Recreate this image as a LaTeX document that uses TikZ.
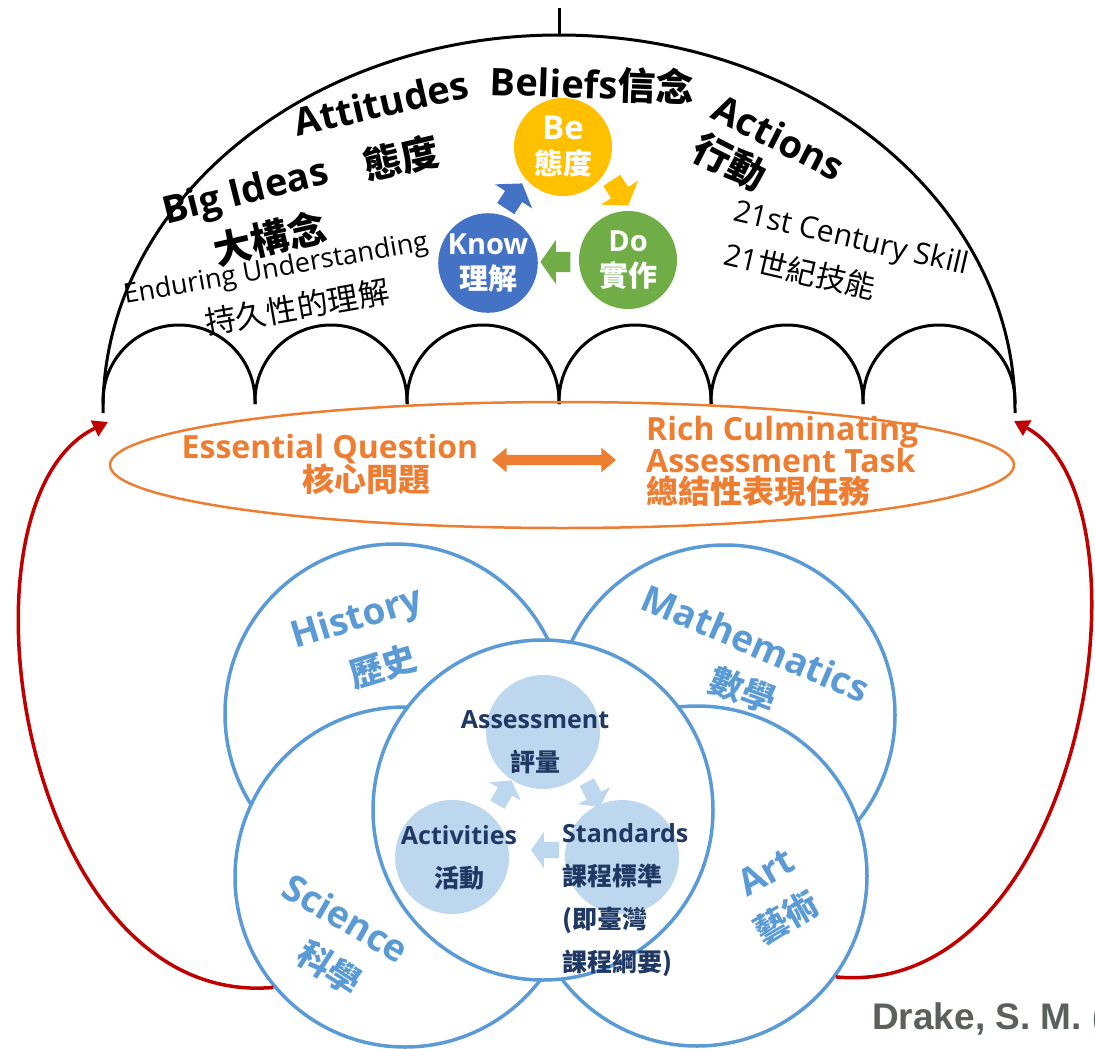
\documentclass[tikz,border=0pt]{standalone}
\usepackage{fontspec}
\setmainfont{Open Sans}
\newfontfamily\zhfont{Noto Sans CJK TC}
\newfontfamily\citefont{Liberation Sans}
\usetikzlibrary{shapes.arrows, arrows.meta}
\definecolor{beyellow}{RGB}{255,192,0}
\definecolor{knowblue}{RGB}{68,114,196}
\definecolor{dogreen}{RGB}{112,173,71}
\definecolor{eqorange}{RGB}{237,125,49}
\definecolor{loopred}{RGB}{192,0,0}
\definecolor{subjblue}{RGB}{91,155,213}
\definecolor{stagefill}{RGB}{189,215,238}
\definecolor{stagenavy}{RGB}{31,56,100}
\definecolor{citegray}{RGB}{89,97,90}
\newcommand{\zh}[1]{{\zhfont #1}}
\tikzstyle{dome} = [line width=3pt, draw=black]
\tikzstyle{domelabel} = [inner sep=0pt, font=\fontsize{38}{42}\selectfont\bfseries]
\tikzstyle{domenote} = [inner sep=0pt, font=\fontsize{27}{30}\selectfont]
\tikzstyle{kbd} = [circle, minimum size=98pt, inner sep=0pt, text=white, align=center, font=\fontsize{29}{35}\selectfont\bfseries]
\tikzstyle{cyclearrow} = [single arrow, minimum height=30pt, inner xsep=0pt, inner ysep=10pt, single arrow head extend=12pt, single arrow tip angle=110]
\tikzstyle{stagearrow} = [single arrow, fill=stagefill, minimum height=28pt, inner xsep=0pt, inner ysep=8pt, single arrow head extend=10pt, single arrow tip angle=110]
\tikzstyle{eqlabel} = [inner sep=0pt, text=eqorange, font=\fontsize{32}{34}\selectfont\bfseries]
\tikzstyle{linkarrow} = [double arrow, fill=eqorange, minimum height=124pt, inner xsep=0pt, inner ysep=5pt, double arrow head extend=7pt, double arrow tip angle=80]
\tikzstyle{feedback} = [draw=loopred, line width=3.5pt, -{Triangle[width=17pt,length=15pt]}]
\tikzstyle{subject} = [circle, draw=subjblue, line width=3.5pt, fill=white, minimum size=340pt, inner sep=0pt]
\tikzstyle{subjlabel} = [inner sep=0pt, text=subjblue, font=\fontsize{37}{40}\selectfont\bfseries]
\tikzstyle{stage} = [circle, fill=stagefill, minimum size=114pt, inner sep=0pt]
\tikzstyle{stagelabel} = [inner sep=0pt, text=stagenavy, font=\fontsize{25}{43}\selectfont\bfseries]

\begin{document}
\begin{tikzpicture}[x=1pt, y=-1pt]
\useasboundingbox (0,0) rectangle (1095,1049);

\draw[dome] (559,8) -- (559,35);
\draw[dome] (103,413) -- (103,410) arc[start angle=180, end angle=360, x radius=456, y radius=375] -- (1015,413);
\foreach \i in {0,...,5}
  \draw[dome] (103+152*\i,404) -- ++(0,-3) arc[start angle=180, end angle=360, radius=76] -- ++(0,3);

\node[domelabel, rotate=13] (attitudes) at (381,103) {Attitudes};
\node[domelabel, rotate=-2] (beliefs) at (592,84) {Beliefs\zh{信念}};
\node[domelabel, rotate=-27] (actions) at (779,137) {Actions};
\node[domelabel, rotate=-27] (actionszh) at (730,162) {\zh{行動}};
\node[domelabel, rotate=14] (bigideas) at (246,194) {Big Ideas};
\node[domelabel, rotate=13] (attitudeszh) at (401,158) {\zh{態度}};
\node[domelabel, rotate=13] (bigideaszh) at (270,238) {\zh{大構念}};
\node[domenote, rotate=10] (enduring) at (276,270) {Enduring Understanding};
\node[domenote, rotate=10, font=\fontsize{31}{33}\selectfont] (enduringzh) at (297,307) {\zh{持久性的理解}};
\node[domenote, rotate=-13, font=\fontsize{30}{32}\selectfont] (skill) at (851,240) {21st Century Skill};
\node[domenote, rotate=-13, font=\fontsize{30}{32}\selectfont] (skillzh) at (800,271) {21\zh{世紀技能}};

\node[kbd, fill=beyellow] (be) at (563,147) {{\fontsize{33}{35}\selectfont Be}\\\zh{態度}};
\node[kbd, fill=knowblue] (know) at (488,263) {Know\\\zh{理解}};
\node[kbd, fill=dogreen] (do) at (628,260) {Do\\\zh{實作}};
\node[cyclearrow, fill=knowblue, rotate=57] (knowbe) at (512,199) {};
\node[cyclearrow, fill=beyellow, rotate=-57] (bedo) at (618,190) {};
\node[cyclearrow, fill=dogreen, rotate=180] (doknow) at (559,262) {};

\draw[eqorange, line width=2.5pt] (562,465) ellipse[x radius=452, y radius=63];
\node[eqlabel, anchor=base] (eq) at (330,458) {Essential Question};
\node[eqlabel, anchor=base] (eqzh) at (366,491) {\zh{核心問題}};
\node[eqlabel, anchor=base west] (rich) at (646,440) {Rich Culminating};
\node[eqlabel, anchor=base west] (task) at (646,472) {Assessment Task};
\node[eqlabel, anchor=base west] (taskzh) at (646,503) {\zh{總結性表現任務}};
\node[linkarrow] (link) at (554,460) {};

\node[subject] (history) at (395,714) {};
\node[subject] (math) at (725,715) {};
\node[subject] (science) at (405,877) {};
\node[subject] (art) at (697,876) {};
\node[subject] (core) at (543,810) {};

\coordinate (domeleft) at (108,422);
\coordinate (domeright) at (1014,421);
\draw[feedback] (science.220) .. controls (20,1010) and (-55,500) .. (domeleft);
\draw[feedback] (art.324) .. controls (1085,1000) and (1160,500) .. (domeright);

\node[subjlabel, rotate=17] (historytxt) at (357,620) {History};
\node[subjlabel, rotate=17, font=\fontsize{34}{36}\selectfont\bfseries] (historyzh) at (383,666) {\zh{歷史}};
\node[subjlabel, rotate=-23] (mathtxt) at (756,643) {Mathematics};
\node[subjlabel, rotate=-20, font=\fontsize{34}{36}\selectfont\bfseries] (mathzh) at (743,690) {\zh{數學}};
\node[subjlabel, rotate=-30] (sciencetxt) at (346,918) {Science};
\node[subjlabel, rotate=-33, font=\fontsize{34}{36}\selectfont\bfseries] (sciencezh) at (330,968) {\zh{科學}};
\node[subjlabel, rotate=30] (arttxt) at (766,872) {Art};
\node[subjlabel, rotate=30, font=\fontsize{34}{36}\selectfont\bfseries] (artzh) at (786,917) {\zh{藝術}};

\node[stage] (assessment) at (543,732) {};
\node[stage] (activities) at (452,857) {};
\node[stage] (standards) at (622,857) {};
\node[stagearrow, rotate=60] (actass) at (503,795) {};
\node[stagearrow, rotate=-62] (assstd) at (592,792) {};
\node[stagearrow, rotate=180] (stdact) at (548,850) {};
\node[stagelabel, align=center, anchor=base] (assesstxt) at (535,771) {Assessment\\\zh{評量}};
\node[stagelabel, align=center, anchor=base] (activtxt) at (459,887) {Activities\\\zh{活動}};
\node[stagelabel, align=left, anchor=base west] (stdtxt) at (562,971) {Standards\\\zh{課程標準}\\\zh{(即臺灣}\\\zh{課程綱要)}};

\node[anchor=base west, inner sep=0pt, text=citegray, font=\citefont\fontsize{37}{40}\selectfont\bfseries] (cite) at (872,1029) {Drake, S. M. (};
\end{tikzpicture}
\end{document}
